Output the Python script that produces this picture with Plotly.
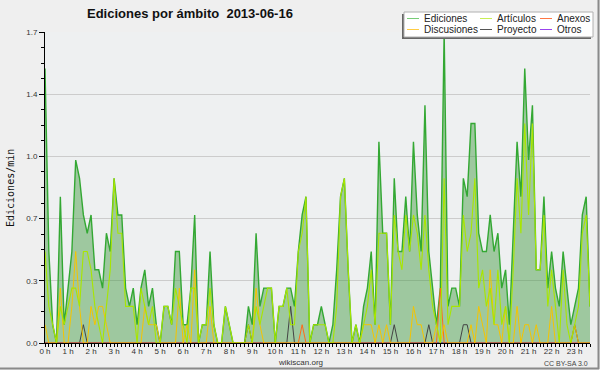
import plotly.graph_objects as go

# 10-minute bins for 2013-06-16 (index 0 = 00:00)
bins = list(range(143))
hour_labels = [f"{h} h" for h in range(24)]
y_tick_vals = [0.0, 0.34, 0.68, 1.02, 1.36, 1.7]
y_tick_text = ["0.0", "0.3", "0.7", "1.0", "1.4", "1.7"]

ediciones = [
    1.5, 0.5, 0.1, 0.0, 0.8, 0.1, 0.3, 0.5, 1.0, 0.9,
    0.7, 0.6, 0.7, 0.4, 0.4, 0.3, 0.6, 0.5, 0.9, 0.7,
    0.7, 0.3, 0.2, 0.3, 0.1, 0.3, 0.4, 0.2, 0.3, 0.1,
    0.0, 0.2, 0.2, 0.1, 0.5, 0.5, 0.1, 0.1, 0.3, 0.7,
    0.0, 0.1, 0.1, 0.5, 0.1, 0.0, 0.0, 0.2, 0.1, 0.0,
    0.0, 0.0, 0.0, 0.2, 0.1, 0.6, 0.2, 0.3, 0.3, 0.3,
    0.0, 0.2, 0.2, 0.3, 0.3, 0.2, 0.5, 0.7, 0.8, 0.0,
    0.1, 0.1, 0.2, 0.1, 0.0, 0.1, 0.4, 0.8, 0.9, 0.4,
    0.0, 0.1, 0.0, 0.2, 0.3, 0.5, 0.1, 1.1, 0.6, 0.6,
    0.1, 0.9, 0.5, 0.5, 0.8, 0.5, 1.1, 0.7, 0.5, 1.3,
    0.5, 0.3, 0.1, 0.3, 1.7, 0.2, 0.3, 0.3, 0.2, 0.9,
    0.8, 1.2, 1.2, 0.6, 0.5, 0.5, 0.7, 0.5, 0.6, 0.3,
    0.4, 0.1, 0.6, 1.1, 0.8, 1.5, 1.0, 1.3, 0.4, 0.4,
    0.8, 0.3, 0.5, 0.3, 0.2, 0.5, 0.3, 0.1, 0.2, 0.3,
    0.7, 0.8, 0.2,
]

articulos = [
    0.5, 0.2, 0.1, 0.0, 0.2, 0.1, 0.2, 0.3, 0.3, 0.2,
    0.5, 0.5, 0.4, 0.2, 0.1, 0.0, 0.2, 0.4, 0.9, 0.6,
    0.6, 0.2, 0.2, 0.2, 0.0, 0.3, 0.2, 0.1, 0.2, 0.0,
    0.0, 0.2, 0.2, 0.1, 0.3, 0.2, 0.1, 0.0, 0.3, 0.3,
    0.0, 0.1, 0.1, 0.3, 0.1, 0.0, 0.0, 0.2, 0.1, 0.0,
    0.0, 0.0, 0.0, 0.1, 0.0, 0.2, 0.1, 0.2, 0.3, 0.3,
    0.0, 0.2, 0.2, 0.3, 0.1, 0.1, 0.5, 0.6, 0.8, 0.0,
    0.1, 0.1, 0.1, 0.1, 0.0, 0.0, 0.2, 0.8, 0.9, 0.4,
    0.0, 0.1, 0.0, 0.1, 0.2, 0.4, 0.1, 0.6, 0.6, 0.6,
    0.1, 0.7, 0.5, 0.4, 0.7, 0.5, 0.7, 0.6, 0.4, 0.7,
    0.4, 0.2, 0.1, 0.0, 0.9, 0.1, 0.2, 0.2, 0.2, 0.7,
    0.5, 0.6, 0.9, 0.3, 0.4, 0.2, 0.3, 0.1, 0.4, 0.1,
    0.2, 0.0, 0.4, 0.9, 0.6, 1.2, 0.7, 1.2, 0.4, 0.4,
    0.7, 0.2, 0.4, 0.2, 0.0, 0.4, 0.1, 0.0, 0.1, 0.2,
    0.6, 0.7, 0.2,
]

discusiones = [
    0.1, 0.0, 0.0, 0.0, 0.3, 0.0, 0.0, 0.2, 0.5, 0.2,
    0.0, 0.0, 0.2, 0.1, 0.2, 0.2, 0.1, 0.0, 0.0, 0.0,
    0.0, 0.0, 0.0, 0.0, 0.0, 0.0, 0.2, 0.1, 0.1, 0.1,
    0.0, 0.0, 0.0, 0.0, 0.0, 0.3, 0.0, 0.1, 0.0, 0.4,
    0.0, 0.0, 0.0, 0.2, 0.0, 0.0, 0.0, 0.0, 0.0, 0.0,
    0.0, 0.0, 0.0, 0.0, 0.0, 0.3, 0.1, 0.0, 0.0, 0.0,
    0.0, 0.0, 0.0, 0.0, 0.0, 0.0, 0.0, 0.0, 0.0, 0.0,
    0.0, 0.0, 0.0, 0.0, 0.0, 0.0, 0.0, 0.0, 0.0, 0.0,
    0.0, 0.0, 0.0, 0.1, 0.1, 0.1, 0.0, 0.1, 0.0, 0.1,
    0.0, 0.0, 0.0, 0.0, 0.0, 0.0, 0.2, 0.1, 0.1, 0.0,
    0.0, 0.0, 0.1, 0.0, 0.1, 0.0, 0.0, 0.0, 0.0, 0.0,
    0.0, 0.1, 0.0, 0.2, 0.1, 0.0, 0.4, 0.1, 0.1, 0.0,
    0.2, 0.0, 0.0, 0.2, 0.0, 0.1, 0.1, 0.0, 0.1, 0.0,
    0.0, 0.0, 0.2, 0.0, 0.0, 0.0, 0.0, 0.0, 0.1, 0.0,
    0.0, 0.0, 0.0,
]

anexos = [0.0] * 143
anexos_points = {67: 0.1, 103: 0.3}

proyecto = [0.0] * 143
proyecto_points = {10: 0.1, 53: 0.1, 64: 0.2, 91: 0.1, 100: 0.1, 109: 0.1, 110: 0.1, 138: 0.1}

otros = [0.0] * 143

for k, v in anexos_points.items():
    anexos[k] = v
for k, v in proyecto_points.items():
    proyecto[k] = v

# ---- styling ----
FONT = "Liberation Sans, Arial, sans-serif"
C_ED_LINE = "#33a833"
C_ED_FILL = "rgba(60,150,60,0.45)"
C_ART = "#a8e600"
C_DISC = "#f5c400"
C_ANEX = "#ff6a1a"
C_PROY = "#444444"
C_OTROS = "#9944ee"

L, R, T, B = 45, 10, 32, 27
W, H = 600, 370
PW, PH = W - L - R, H - T - B


def px(x):
    return (x - L) / PW


def py(y):
    return (H - B - y) / PH


fig = go.Figure()
fig.add_trace(go.Scatter(x=bins, y=ediciones, mode="lines", fill="tozeroy",
                         fillcolor=C_ED_FILL, line=dict(color=C_ED_LINE, width=1.4),
                         name="Ediciones"))
fig.add_trace(go.Scatter(x=bins, y=otros, mode="lines", line=dict(color=C_OTROS, width=1), name="Otros"))
fig.add_trace(go.Scatter(x=bins, y=proyecto, mode="lines", line=dict(color=C_PROY, width=1), name="Proyecto"))
fig.add_trace(go.Scatter(x=bins, y=anexos, mode="lines", line=dict(color=C_ANEX, width=1), name="Anexos"))
fig.add_trace(go.Scatter(x=bins, y=discusiones, mode="lines", line=dict(color=C_DISC, width=1), name="Discusiones"))
fig.add_trace(go.Scatter(x=bins, y=articulos, mode="lines", line=dict(color=C_ART, width=1.1), name="Artículos"))

shapes = []
annotations = []

# outer frame (right/bottom darker)
shapes.append(dict(type="line", xref="paper", yref="paper", x0=px(598.5), x1=px(598.5), y0=py(0), y1=py(369),
                   line=dict(color="#8a8a8a", width=2)))
shapes.append(dict(type="line", xref="paper", yref="paper", x0=px(0), x1=px(599), y0=py(368.5), y1=py(368.5),
                   line=dict(color="#8a8a8a", width=2)))

# legend box
shapes.append(dict(type="rect", xref="paper", yref="paper", x0=px(402), x1=px(591), y0=py(39), y1=py(14),
                   fillcolor="#666666", line=dict(width=0), layer="above"))
shapes.append(dict(type="rect", xref="paper", yref="paper", x0=px(404), x1=px(593), y0=py(37), y1=py(12),
                   fillcolor="white", line=dict(color="#b0b0b0", width=1), layer="above"))

legend_items = [
    ("Ediciones", "#77cc77", 407, 18.5), ("Artículos", "#c8ee55", 480, 18.5), ("Anexos", "#ff7744", 540, 18.5),
    ("Discusiones", "#ffcc44", 407, 29.5), ("Proyecto", "#555555", 480, 29.5), ("Otros", "#9944ee", 540, 29.5),
]
for name, col, lx, ly in legend_items:
    shapes.append(dict(type="line", xref="paper", yref="paper", x0=px(lx), x1=px(lx + 12), y0=py(ly), y1=py(ly),
                       line=dict(color=col, width=1), layer="above"))
    annotations.append(dict(text=name, xref="paper", yref="paper", x=px(lx + 15), y=py(ly), xanchor="left",
                            yanchor="middle", showarrow=False, font=dict(family=FONT, size=10, color="#222")))

annotations.append(dict(text="<b>Ediciones por ámbito  2013-06-16</b>", xref="paper", yref="paper",
                        x=px(85), y=py(14), xanchor="left", yanchor="middle", showarrow=False,
                        font=dict(family=FONT, size=13, color="#111")))
annotations.append(dict(text="Ediciones/min", xref="paper", yref="paper", x=px(10), y=py(188),
                        xanchor="center", yanchor="middle", textangle=-90, showarrow=False,
                        font=dict(family="DejaVu Sans Mono, monospace", size=10, color="#111")))
annotations.append(dict(text="wikiscan.org", xref="paper", yref="paper", x=px(300), y=py(362),
                        xanchor="center", yanchor="middle", showarrow=False,
                        font=dict(family=FONT, size=8, color="#333")))
annotations.append(dict(text="CC BY-SA 3.0", xref="paper", yref="paper", x=px(590), y=py(363),
                        xanchor="right", yanchor="middle", showarrow=False,
                        font=dict(family=FONT, size=7, color="#444")))

fig.update_layout(
    width=W, height=H,
    margin=dict(l=L, r=R, t=T, b=B),
    paper_bgcolor="#efefef",
    plot_bgcolor="#eef0f1",
    showlegend=False,
    shapes=shapes,
    annotations=annotations,
    xaxis=dict(range=[0, 142], tickmode="array", tickvals=[h * 6 for h in range(24)], ticktext=hour_labels,
               ticks="outside", ticklen=3, tickcolor="black", showgrid=False, zeroline=False,
               showline=True, linecolor="black", linewidth=1, ticklabelstandoff=-3,
               tickfont=dict(family=FONT, size=8, color="#333"),
               minor=dict(tick0=0, dtick=1, ticks="outside", ticklen=3, tickcolor="black", showgrid=False)),
    yaxis=dict(range=[0, 1.7], tickmode="array", tickvals=y_tick_vals, ticktext=y_tick_text,
               ticks="outside", ticklen=5, tickcolor="black", showgrid=True, gridcolor="#cccccc", gridwidth=1,
               zeroline=False, showline=True, linecolor="black", linewidth=1,
               tickfont=dict(family=FONT, size=8, color="#333"),
               minor=dict(tick0=0, dtick=0.085, ticks="outside", ticklen=3, tickcolor="black", showgrid=False)),
)

fig.write_html("out.html", config={"displayModeBar": False},
               post_script="document.body.style.margin='0';document.body.style.background='#efefef';")
